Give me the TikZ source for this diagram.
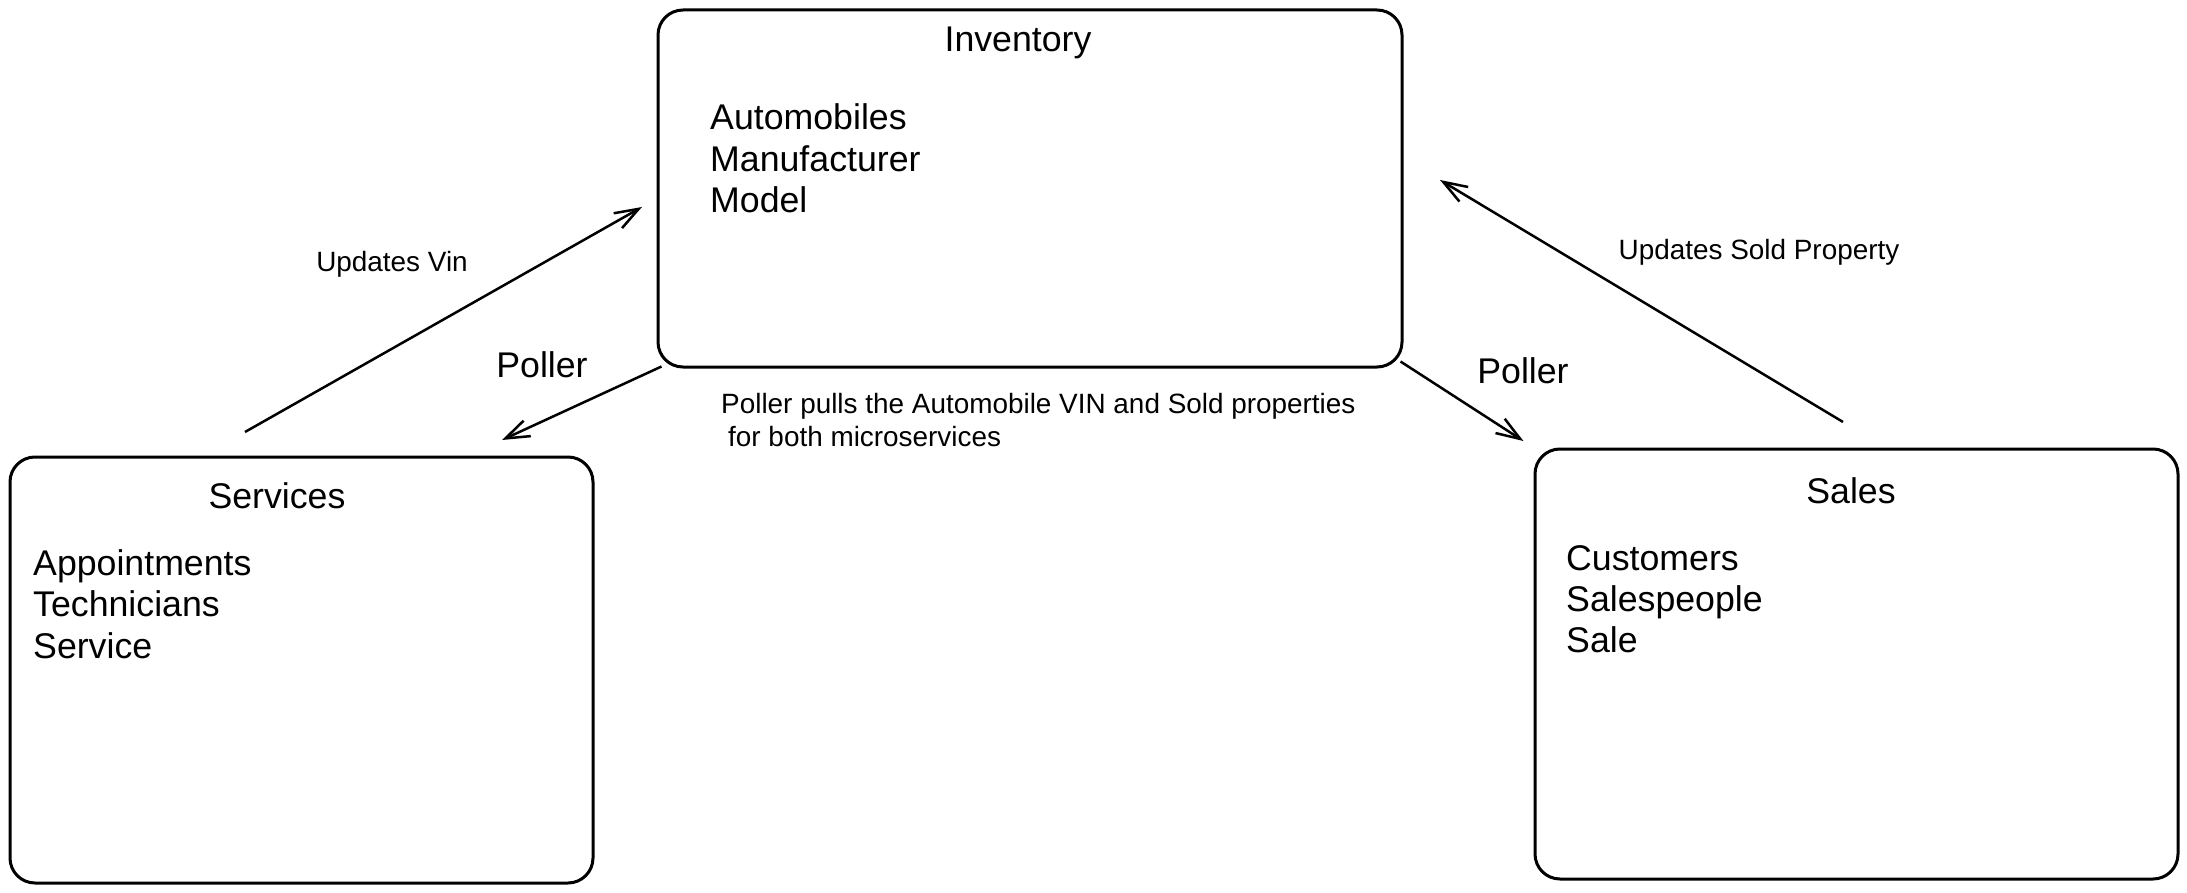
\documentclass[tikz,border=0pt]{standalone}
\usepackage{fontspec}
\setmainfont{Liberation Sans}
\usetikzlibrary{arrows.meta}

\begin{document}
\begin{tikzpicture}[x=1pt, y=-1pt, > = {Straight Barb[length=24pt,width=17pt]},
   box/.style={draw, rounded corners=25pt, line width=3pt, inner sep=0},
   big/.style={font=\fontsize{35.7}{41}\selectfont, inner sep=0},
   small/.style={font=\fontsize{27.9}{33}\selectfont, inner sep=0},
   arr/.style={->, line width=2.5pt}]

         \useasboundingbox (0,0) rectangle (2187,893);

         \node(inv)[box, minimum width=744, minimum height=357] at (1030,188.5) {};
         \node(ser)[box, minimum width=583, minimum height=426] at (301.5,670) {};
         \node(sal)[box, minimum width=643, minimum height=430] at (1856.5,664) {};

         \node(invT)[big, anchor=base] at (1018,52) {Inventory};
         \node(inv1)[big, anchor=base west] at (710,130) {Automobiles};
         \node(inv2)[big, anchor=base west] at (710,171.5) {Manufacturer};
         \node(inv3)[big, anchor=base west] at (710,213) {Model};

         \node(serT)[big, anchor=base] at (277,508) {Services};
         \node(ser1)[big, anchor=base west] at (33,575) {Appointments};
         \node(ser2)[big, anchor=base west] at (33,616.5) {Technicians};
         \node(ser3)[big, anchor=base west] at (33,658) {Service};

         \node(salT)[big, anchor=base] at (1851,503) {Sales};
         \node(sal1)[big, anchor=base west] at (1566,570) {Customers};
         \node(sal2)[big, anchor=base west] at (1566,611) {Salespeople};
         \node(sal3)[big, anchor=base west] at (1566,652) {Sale};

         \node(vin)[small, anchor=base] at (392,272) {Updates Vin};
         \node(sold)[small, anchor=base] at (1759,260) {Updates Sold Property};
         \node(pollL)[big, anchor=base] at (542,377) {Poller};
         \node(pollR)[big, anchor=base] at (1523,383) {Poller};
         \node(pull1)[small, anchor=base west] at (721,413) {Poller pulls the Automobile VIN and Sold properties};
         \node(pull2)[small, anchor=base west] at (728,446) {for both microservices};

         \coordinate(vinS) at (245,432);
         \coordinate(vinE) at (642,207);
         \coordinate(soldS) at (1843,422);
         \coordinate(soldE) at (1440,180);
         \coordinate(serE) at (502,440);

         \draw[arr] (vinS) -- (vinE);
         \draw[arr] (soldS) -- (soldE);
         \draw[arr] ([shift={(5,-2)}]inv.south west) -- (serE);
         \draw[arr, shorten >=12pt] ([shift={(-3,-7)}]inv.south east) -- (sal.north west);

\end{tikzpicture}
\end{document}
